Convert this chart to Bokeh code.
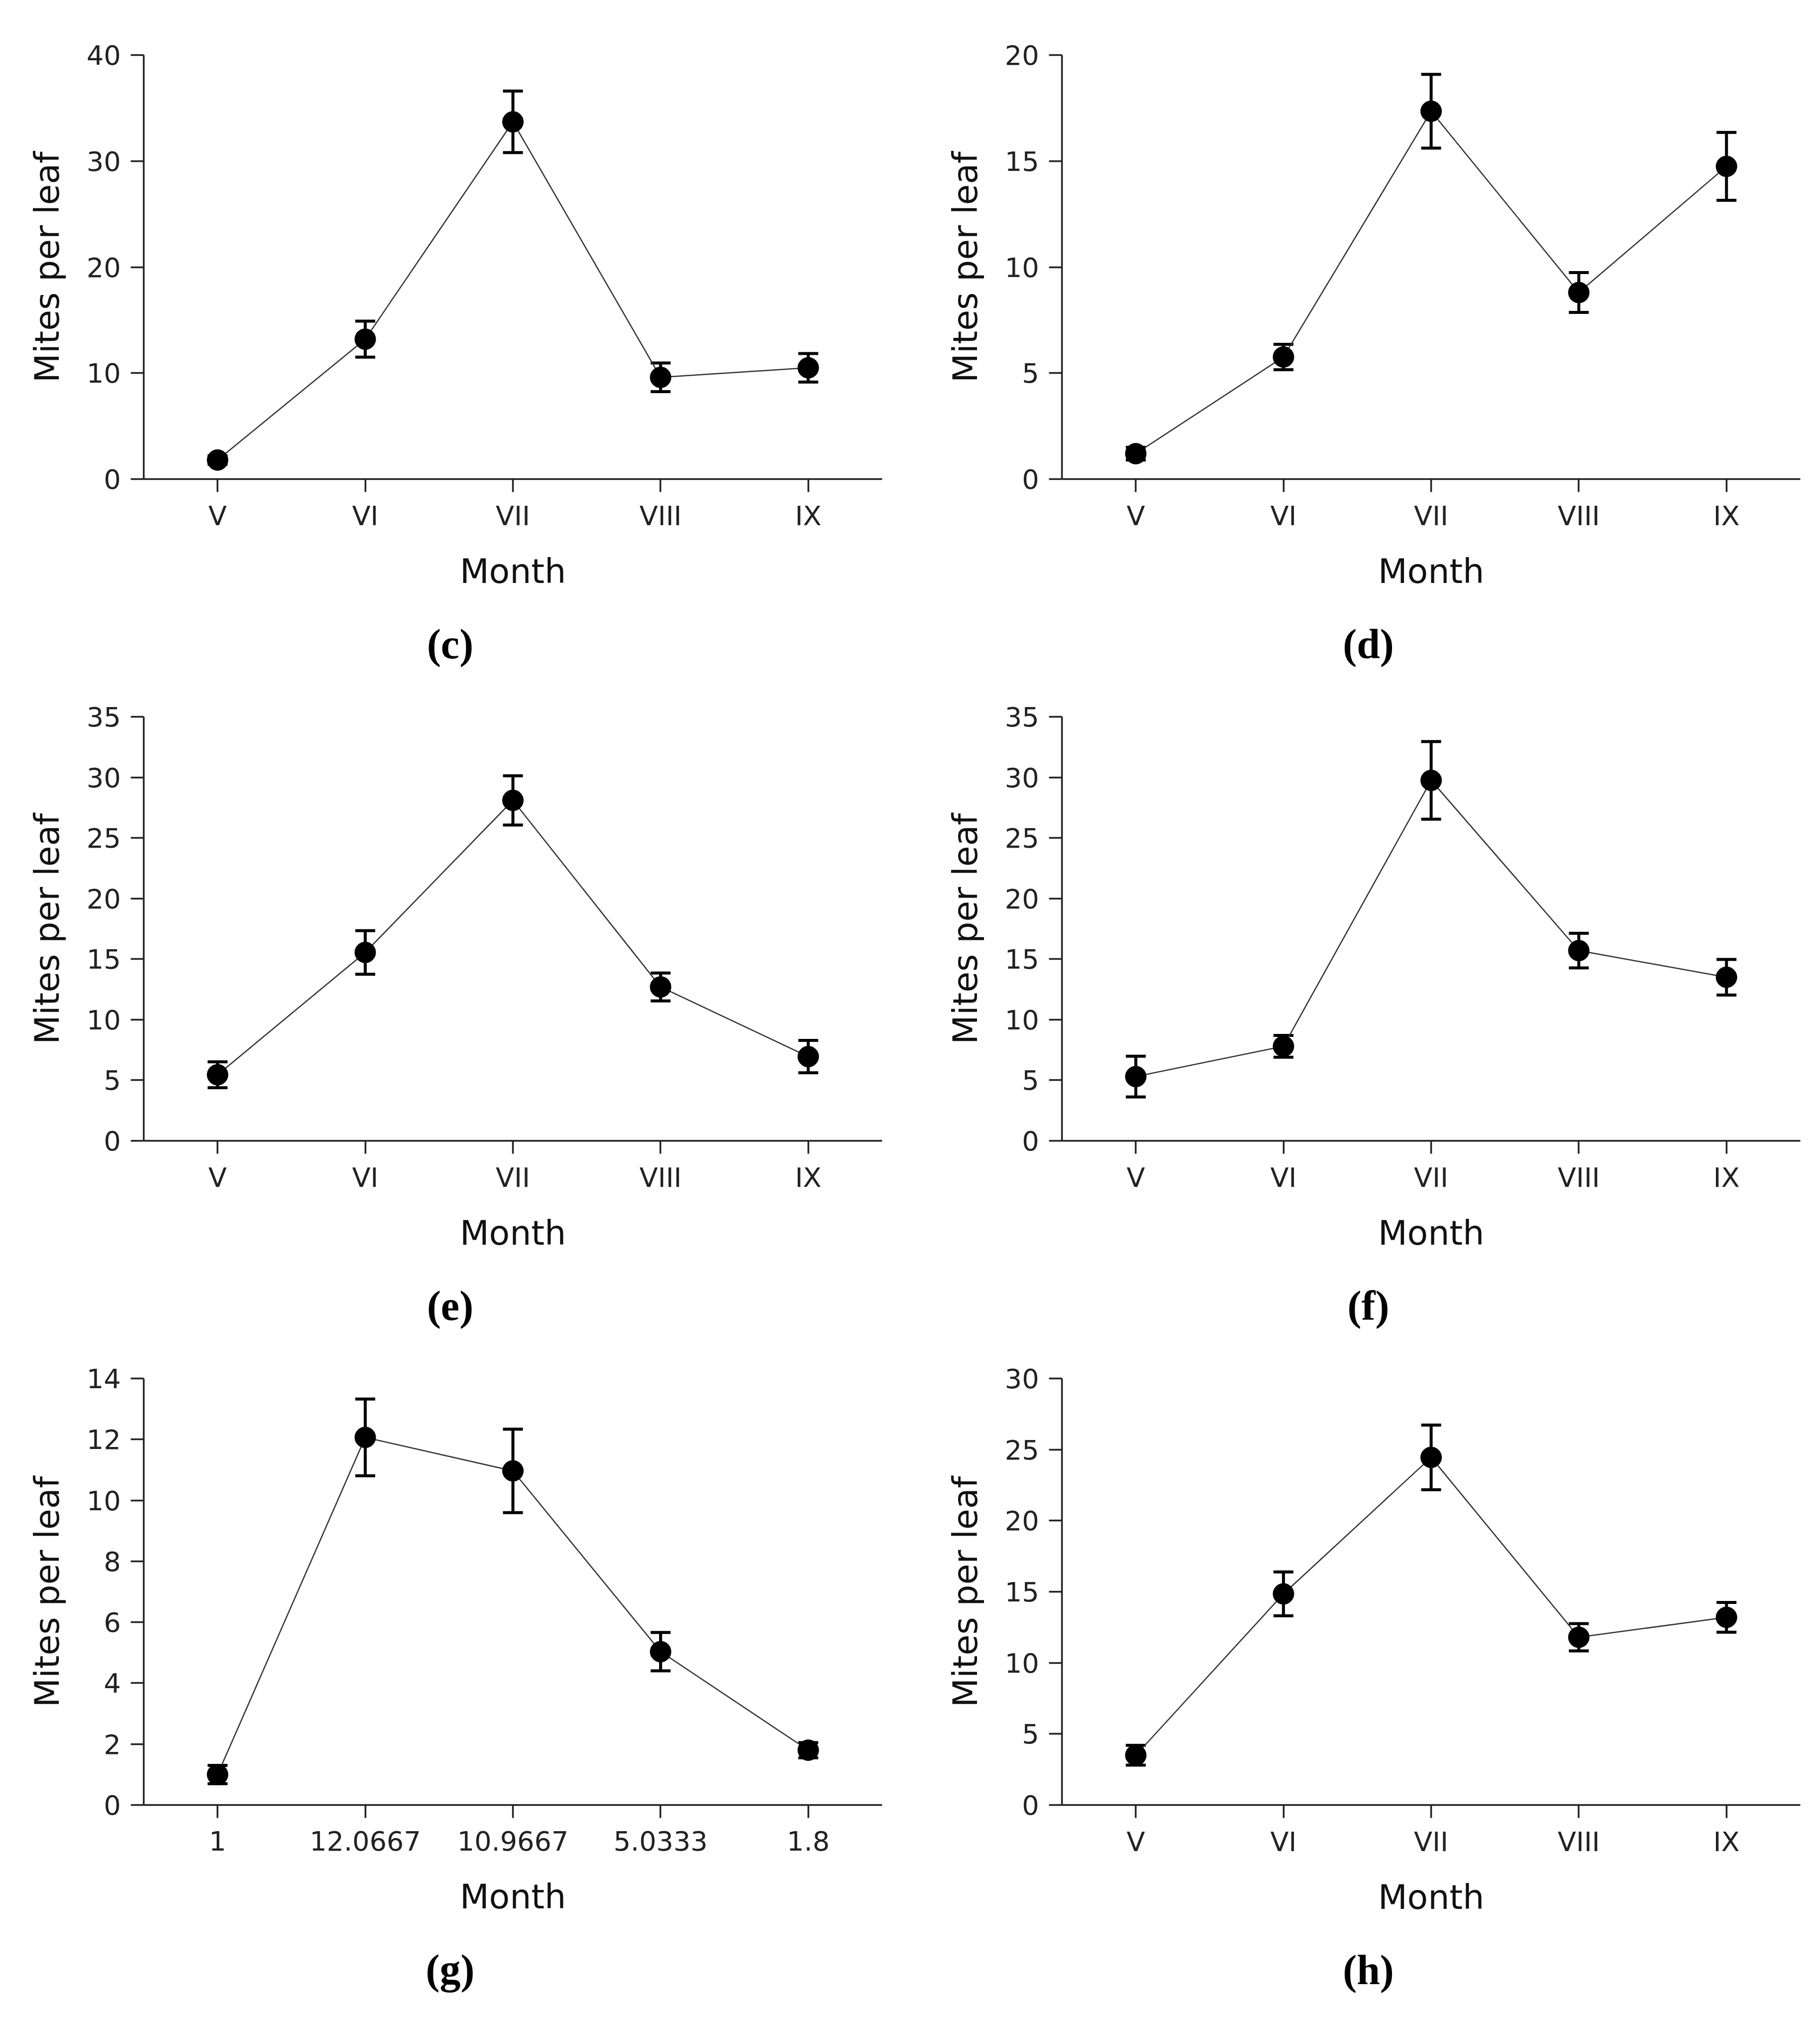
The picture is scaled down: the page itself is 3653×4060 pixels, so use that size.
from bokeh.plotting import figure
from bokeh.layouts import gridplot
from bokeh.models import ColumnDataSource, Whisker, TeeHead, FixedTicker, FactorRange, Title
from bokeh.embed import file_html
from bokeh.resources import INLINE

# month labels (panel g shows the mean values on its axis instead)
months = ["V", "VI", "VII", "VIII", "IX"]
months_g = ["1", "12.0667", "10.9667", "5.0333", "1.8"]

# mean mites per leaf and error (half bar length)
mean_c = [1.8, 13.2, 33.7, 9.6, 10.5]
err_c = [0.4, 1.7, 2.9, 1.35, 1.35]

mean_d = [1.2, 5.76, 17.35, 8.8, 14.75]
err_d = [0.3, 0.6, 1.74, 0.94, 1.6]

mean_e = [5.45, 15.55, 28.1, 12.7, 6.95]
err_e = [1.07, 1.8, 2.03, 1.15, 1.34]

mean_f = [5.3, 7.8, 29.75, 15.7, 13.5]
err_f = [1.68, 0.9, 3.2, 1.43, 1.47]

mean_g = [1.0, 12.0667, 10.9667, 5.0333, 1.8]
err_g = [0.3, 1.26, 1.37, 0.63, 0.25]

mean_h = [3.5, 14.85, 24.45, 11.8, 13.2]
err_h = [0.7, 1.54, 2.27, 0.96, 1.05]

# y axis max and tick step per panel
ymax = {"c": 40, "d": 20, "e": 35, "f": 35, "g": 14, "h": 30}
ystep = {"c": 10, "d": 5, "e": 5, "f": 5, "g": 2, "h": 5}

SANS = "DejaVu Sans"
SERIF = "Liberation Serif"
# bold serif letter widths (em), used to centre the "(x)" label
letter_w = {"c": 0.444, "d": 0.556, "e": 0.444, "f": 0.333, "g": 0.5, "h": 0.556}


def make_panel(letter, labels, means, errs, col, row):
    lower = [m - e for m, e in zip(means, errs)]
    upper = [m + e for m, e in zip(means, errs)]
    src = ColumnDataSource(dict(x=labels, y=means, lower=lower, upper=upper))

    left, right = (288, 48) if col == 0 else (313, 23)
    top = 110 if row == 0 else 40
    p = figure(x_range=FactorRange(*labels), y_range=(0, ymax[letter]),
               frame_width=1482, frame_height=851 if row < 2 else 856,
               output_backend="svg", toolbar_location=None,
               min_border_left=left, min_border_right=right,
               min_border_top=top, min_border_bottom=300)
    p.outline_line_color = None
    p.xgrid.visible = False
    p.ygrid.visible = False

    p.line("x", "y", source=src, line_width=2.5, line_color="#333333")
    head = dict(size=40, line_width=6, line_color="black")
    p.add_layout(Whisker(base="x", lower="lower", upper="upper", source=src,
                         line_width=6, line_color="black",
                         upper_head=TeeHead(**head), lower_head=TeeHead(**head)))
    p.scatter("x", "y", source=src, size=42, color="black")

    p.yaxis.ticker = FixedTicker(ticks=list(range(0, ymax[letter] + 1, ystep[letter])))
    for ax in (p.xaxis[0], p.yaxis[0]):
        ax.axis_line_width = 3.5
        ax.axis_line_color = "#222222"
        ax.major_tick_line_width = 3.5
        ax.major_tick_line_color = "#222222"
        ax.major_tick_in = 0
        ax.major_tick_out = 26
        ax.minor_tick_line_color = None
        ax.major_label_text_font = SANS
        ax.major_label_text_font_size = "54px"
        ax.major_label_text_color = "#222222"
        ax.axis_label_text_font = SANS
        ax.axis_label_text_font_size = "68px"
        ax.axis_label_text_font_style = "normal"
        ax.axis_label_text_color = "#111111"
    p.xaxis.axis_label = "Month"
    p.yaxis.axis_label = "Mites per leaf"
    p.xaxis.major_label_standoff = 16 if letter != "g" else 26
    p.yaxis.major_label_standoff = 20
    p.xaxis.axis_label_standoff = 37 if letter != "g" else 50
    p.yaxis.axis_label_standoff = 37

    # panel letter "(x)" below the plot
    w = (0.666 + letter_w[letter]) * 84
    p.add_layout(Title(text="(%s)" % letter, align="left", offset=615 - w / 2,
                       vertical_align="top", standoff=115, text_font=SERIF,
                       text_font_size="84px", text_font_style="bold",
                       text_color="black"), "below")
    return p


pc = make_panel("c", months, mean_c, err_c, 0, 0)
pd_ = make_panel("d", months, mean_d, err_d, 1, 0)
pe = make_panel("e", months, mean_e, err_e, 0, 1)
pf = make_panel("f", months, mean_f, err_f, 1, 1)
pg = make_panel("g", months_g, mean_g, err_g, 0, 2)
ph = make_panel("h", months, mean_h, err_h, 1, 2)

grid = gridplot([[pc, pd_], [pe, pf], [pg, ph]], toolbar_location=None)

open("out.html", "w").write(file_html(grid, INLINE))
